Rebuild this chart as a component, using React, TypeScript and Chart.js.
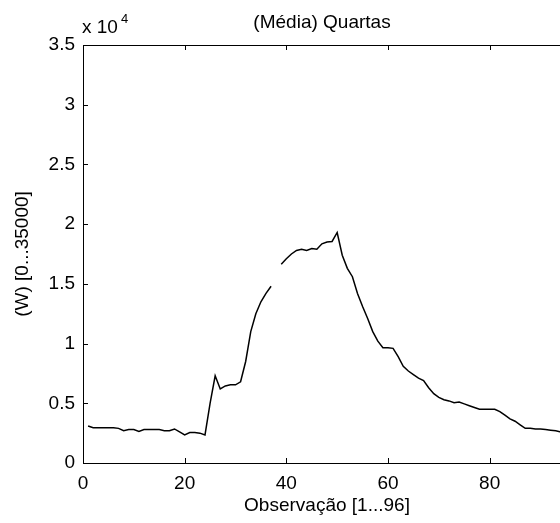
import React, { useEffect, useRef } from "react";
import { Chart, registerables } from "chart.js";

Chart.register(...registerables);

const chartTitle = "(Média) Quartas";
const xAxisTitle = "Observação [1...96]";
const yAxisTitle = "(W) [0...35000]";
const exponentBase = "x 10";
const exponentPower = "4";

const observations = [
  1, 2, 3, 4, 5, 6, 7, 8, 9, 10, 11, 12, 13, 14, 15, 16, 17, 18, 19, 20,
  21, 22, 23, 24, 25, 26, 27, 28, 29, 30, 31, 32, 33, 34, 35, 36, 37, 38, 39, 40,
  41, 42, 43, 44, 45, 46, 47, 48, 49, 50, 51, 52, 53, 54, 55, 56, 57, 58, 59, 60,
  61, 62, 63, 64, 65, 66, 67, 68, 69, 70, 71, 72, 73, 74, 75, 76, 77, 78, 79, 80,
  81, 82, 83, 84, 85, 86, 87, 88, 89, 90, 91, 92, 93, 94, 95, 96,
];

const potencia: (number | null)[] = [
  3100, 2950, 2950, 2950, 2950, 2950, 2900, 2700, 2800, 2800,
  2650, 2800, 2800, 2800, 2800, 2700, 2700, 2850, 2600, 2350,
  2550, 2550, 2500, 2350, 5000, 7300, 6200, 6450, 6550, 6550,
  6800, 8500, 11000, 12500, 13500, 14200, 14800, null, 16650, 17100,
  17500, 17800, 17900, 17800, 17950, 17900, 18350, 18500, 18550, 19300,
  17400, 16300, 15600, 14200, 13100, 12100, 11000, 10200, 9650, 9650,
  9600, 8900, 8100, 7700, 7400, 7100, 6900, 6300, 5800, 5500,
  5300, 5200, 5050, 5100, 4950, 4800, 4650, 4500, 4500, 4500,
  4500, 4300, 4000, 3700, 3500, 3200, 2900, 2900, 2850, 2850,
  2800, 2750, 2700, 2600, 2600, 2550,
];

const xTickValues = [0, 20, 40, 60, 80];
const yTickValues = [0, 5000, 10000, 15000, 20000, 25000, 30000, 35000];

const FONT = "'Liberation Sans', Arial, sans-serif";
const INK = "#000000";

const boxPlugin = {
  id: "matlabBox",
  afterDraw(chart: any) {
    const { ctx, chartArea } = chart;
    const { left, right, top, bottom } = chartArea;
    const xs = chart.scales.x;
    const ys = chart.scales.y;
    ctx.save();
    ctx.strokeStyle = INK;
    ctx.lineWidth = 1;
    ctx.beginPath();
    ctx.moveTo(left + 0.5, top + 0.5);
    ctx.lineTo(right + 0.5, top + 0.5);
    ctx.lineTo(right + 0.5, bottom + 0.5);
    ctx.lineTo(left + 0.5, bottom + 0.5);
    ctx.closePath();
    ctx.stroke();
    const tl = 5;
    ctx.beginPath();
    for (const v of xTickValues) {
      const px = Math.round(xs.getPixelForValue(v)) + 0.5;
      ctx.moveTo(px, bottom);
      ctx.lineTo(px, bottom - tl);
      ctx.moveTo(px, top);
      ctx.lineTo(px, top + tl);
    }
    for (const v of yTickValues) {
      const py = Math.round(ys.getPixelForValue(v)) + 0.5;
      ctx.moveTo(left, py);
      ctx.lineTo(left + tl, py);
      ctx.moveTo(right, py);
      ctx.lineTo(right - tl, py);
    }
    ctx.stroke();

    ctx.fillStyle = INK;
    ctx.textAlign = "center";
    ctx.textBaseline = "middle";
    ctx.font = `19px ${FONT}`;
    ctx.fillText(chartTitle, (left + right) / 2 - 5, 23);

    ctx.textAlign = "left";
    ctx.textBaseline = "alphabetic";
    ctx.font = `19px ${FONT}`;
    ctx.fillText(exponentBase, left - 1, 33);
    const w = ctx.measureText(exponentBase).width;
    ctx.font = `13px ${FONT}`;
    ctx.fillText(exponentPower, left - 1 + w + 3, 23);
    ctx.restore();
  },
};

export default function App() {
  const ref = useRef<HTMLCanvasElement | null>(null);

  useEffect(() => {
    if (!ref.current) return;
    const chart = new Chart(ref.current, {
      type: "line",
      data: {
        datasets: [
          {
            data: observations.map((x, i) => ({ x, y: potencia[i] })) as any,
            borderColor: INK,
            borderWidth: 1.5,
            pointRadius: 0,
            tension: 0,
            spanGaps: false,
            fill: false,
          },
        ],
      },
      options: {
        animation: false,
        responsive: false,
        layout: { padding: { top: 45, right: 9, left: 0, bottom: 0 } },
        plugins: {
          legend: { display: false },
          tooltip: { enabled: false },
          title: { display: false },
        },
        scales: {
          x: {
            type: "linear",
            min: 0,
            max: 96,
            afterBuildTicks: (scale: any) => {
              scale.ticks = xTickValues.map((value) => ({ value }));
            },
            afterFit: (scale: any) => {
              scale.height = 60;
            },
            grid: { display: false, drawTicks: false },
            border: { display: false },
            ticks: {
              padding: 9,
              maxRotation: 0,
              color: INK,
              font: { family: FONT, size: 19 },
              callback: (v: any) => String(v),
            },
            title: {
              display: true,
              text: xAxisTitle,
              color: INK,
              font: { family: FONT, size: 19 },
              padding: { top: 0, bottom: 6 },
            },
          },
          y: {
            type: "linear",
            min: 0,
            max: 35000,
            afterBuildTicks: (scale: any) => {
              scale.ticks = yTickValues.map((value) => ({ value }));
            },
            afterFit: (scale: any) => {
              scale.width = 83;
            },
            grid: { display: false, drawTicks: false },
            border: { display: false },
            ticks: {
              padding: 8,
              color: INK,
              font: { family: FONT, size: 19 },
              callback: (v: any) => String(Number(v) / 10000),
            },
            title: {
              display: true,
              text: yAxisTitle,
              color: INK,
              font: { family: FONT, size: 19 },
              padding: { top: 11, bottom: 0 },
            },
          },
        },
      },
      plugins: [boxPlugin],
    });
    return () => chart.destroy();
  }, []);

  return (
    <div
      style={{
        position: "fixed",
        left: 0,
        top: 0,
        width: 560,
        height: 523,
        overflow: "hidden",
        background: "#fff",
      }}
    >
      <canvas ref={ref} width={580} height={523} style={{ display: "block" }} />
    </div>
  );
}
